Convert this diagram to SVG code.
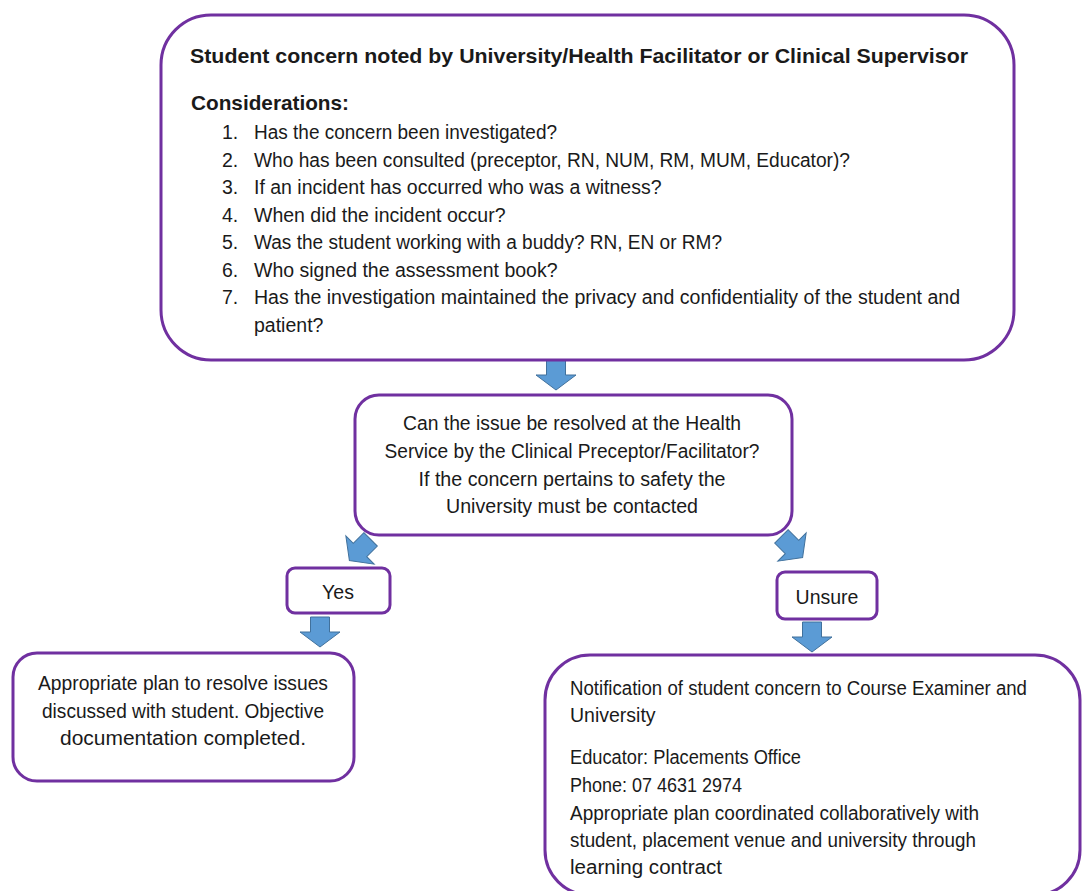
<svg xmlns="http://www.w3.org/2000/svg" width="1083" height="891" viewBox="0 0 1083 891">
<style>
.box{fill:#ffffff;stroke:#7030A0;stroke-width:3}
.t{font-family:"Liberation Sans",Arial,sans-serif;font-size:19.5px;fill:#1a1a1a}
.b{font-weight:bold}
.c{text-anchor:middle}
.arr{fill:#5B9BD5;stroke:#41719C;stroke-width:1}
</style>
<defs>
<path id="dn" d="M-9.5,-15 L9.5,-15 L9.5,0 L20,0 L0,15 L-20,0 L-9.5,0 Z"/>
</defs>
<rect width="1083" height="891" fill="#ffffff"/>
<g id="connectors">
<use href="#dn" class="arr" transform="translate(556,375)"/>
<use href="#dn" class="arr" transform="translate(360,550) rotate(45)"/>
<use href="#dn" class="arr" transform="translate(792,547) rotate(-45)"/>
<use href="#dn" class="arr" transform="translate(320,632)"/>
<use href="#dn" class="arr" transform="translate(812,637)"/>
</g>
<g id="node-concern">
<rect class="box" x="161" y="15" width="853" height="345" rx="50"/>
<text class="t b" x="190" y="63" style="font-size:20.5px" textLength="778" lengthAdjust="spacingAndGlyphs">Student concern noted by University/Health Facilitator or Clinical Supervisor</text>
<text class="t b" x="191" y="110" style="font-size:21px" textLength="158" lengthAdjust="spacingAndGlyphs">Considerations:</text>
<text class="t" x="222" y="139">1.</text><text class="t" x="254" y="139" textLength="303" lengthAdjust="spacingAndGlyphs">Has the concern been investigated?</text>
<text class="t" x="222" y="167">2.</text><text class="t" x="254" y="167" textLength="596" lengthAdjust="spacingAndGlyphs">Who has been consulted (preceptor, RN, NUM, RM, MUM, Educator)?</text>
<text class="t" x="222" y="194">3.</text><text class="t" x="254" y="194">If an incident has occurred who was a witness?</text>
<text class="t" x="222" y="222">4.</text><text class="t" x="254" y="222">When did the incident occur?</text>
<text class="t" x="222" y="249">5.</text><text class="t" x="254" y="249" textLength="468" lengthAdjust="spacingAndGlyphs">Was the student working with a buddy? RN, EN or RM?</text>
<text class="t" x="222" y="277">6.</text><text class="t" x="254" y="277">Who signed the assessment book?</text>
<text class="t" x="222" y="304">7.</text><text class="t" x="254" y="304" textLength="706" lengthAdjust="spacingAndGlyphs">Has the investigation maintained the privacy and confidentiality of the student and</text>
<text class="t" x="254" y="332">patient?</text>
</g>
<g id="node-resolve">
<rect class="box" x="355" y="395" width="437" height="140" rx="24"/>
<text class="t c" x="572" y="430" textLength="338" lengthAdjust="spacingAndGlyphs">Can the issue be resolved at the Health</text>
<text class="t c" x="572" y="458" textLength="375" lengthAdjust="spacingAndGlyphs">Service by the Clinical Preceptor/Facilitator?</text>
<text class="t c" x="572" y="486" textLength="307" lengthAdjust="spacingAndGlyphs">If the concern pertains to safety the</text>
<text class="t c" x="572" y="513" textLength="252" lengthAdjust="spacingAndGlyphs">University must be contacted</text>
</g>
<g id="node-yes">
<rect class="box" x="287" y="568" width="103" height="45" rx="8"/>
<text class="t c" x="338" y="599">Yes</text>
</g>
<g id="node-unsure">
<rect class="box" x="777" y="572" width="100" height="47" rx="8"/>
<text class="t c" x="827" y="604">Unsure</text>
</g>
<g id="node-plan">
<rect class="box" x="13" y="653" width="341" height="128" rx="24"/>
<text class="t c" x="183" y="690" textLength="290" lengthAdjust="spacingAndGlyphs">Appropriate plan to resolve issues</text>
<text class="t c" x="183" y="718" textLength="282" lengthAdjust="spacingAndGlyphs">discussed with student. Objective</text>
<text class="t c" x="183" y="745" textLength="246" lengthAdjust="spacingAndGlyphs">documentation completed.</text>
</g>
<g id="node-notify">
<rect class="box" x="545" y="655" width="535" height="240" rx="45"/>
<text class="t" x="570" y="695" textLength="457" lengthAdjust="spacingAndGlyphs">Notification of student concern to Course Examiner and</text>
<text class="t" x="570" y="722">University</text>
<text class="t" x="570" y="764" textLength="231" lengthAdjust="spacingAndGlyphs">Educator: Placements Office</text>
<text class="t" x="570" y="792" textLength="172" lengthAdjust="spacingAndGlyphs">Phone: 07 4631 2974</text>
<text class="t" x="570" y="820" textLength="409" lengthAdjust="spacingAndGlyphs">Appropriate plan coordinated collaboratively with</text>
<text class="t" x="570" y="847" textLength="406" lengthAdjust="spacingAndGlyphs">student, placement venue and university through</text>
<text class="t" x="570" y="874" textLength="152" lengthAdjust="spacingAndGlyphs">learning contract</text>
</g>
</svg>
